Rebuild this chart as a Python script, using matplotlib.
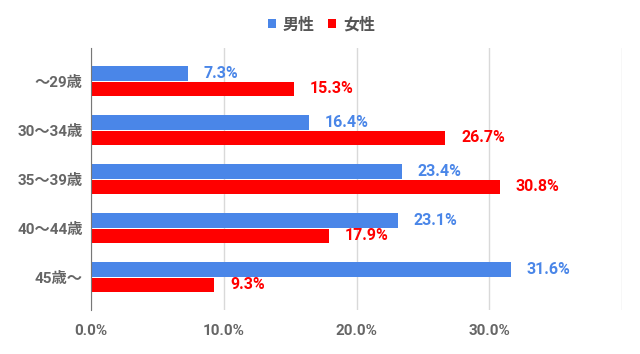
import matplotlib
matplotlib.use("Agg")
import matplotlib.pyplot as plt

plt.rcParams['font.family'] = ['Roboto', 'Noto Sans CJK JP', 'DejaVu Sans']

categories = ['～29歳', '30～34歳', '35～39歳', '40～44歳', '45歳～']
male = [7.3, 16.4, 23.4, 23.1, 31.6]
female = [15.3, 26.7, 30.8, 17.9, 9.3]
series_names = ['男性', '女性']
xticks = [0, 10, 20, 30, 40]
xticklabels = ['0.0%', '10.0%', '20.0%', '30.0%', '']

blue = '#4a86e8'
red = '#ff0000'
gray = '#666666'

fig = plt.figure(figsize=(6.4, 3.54), dpi=100)
ax = fig.add_axes([0.1422, 0.1243, 0.8297, 0.741])

ypos = list(range(len(categories)))
h = 0.3
off = 0.16
ax.barh([y - off for y in ypos], male, height=h, color=blue, label=series_names[0], zorder=3)
ax.barh([y + off for y in ypos], female, height=h, color=red, label=series_names[1], zorder=3)

for y, v in zip(ypos, male):
    ax.annotate('{:.1f}%'.format(v), (v, y - off), xytext=(11.5, 0), textcoords='offset points',
                ha='left', va='center', color=blue, fontsize=11.5, fontweight='bold')
for y, v in zip(ypos, female):
    ax.annotate('{:.1f}%'.format(v), (v, y + off), xytext=(11.5, 0), textcoords='offset points',
                ha='left', va='center', color=red, fontsize=11.5, fontweight='bold')

ax.set_xlim(0, 40)
ax.set_ylim(4.67, -0.68)
ax.set_xticks(xticks)
ax.set_xticklabels(xticklabels)
ax.set_yticks(ypos)
ax.set_yticklabels(categories)
ax.tick_params(axis='both', length=0, colors=gray, labelsize=11)
ax.tick_params(axis='x', pad=10)
ax.tick_params(axis='y', pad=6)
for lab in ax.get_xticklabels() + ax.get_yticklabels():
    lab.set_fontweight('bold')

ax.grid(axis='x', color='#d9d9d9', linewidth=1, zorder=0)
for s in ['top', 'right', 'bottom']:
    ax.spines[s].set_visible(False)
ax.spines['left'].set_color('#777777')
ax.spines['left'].set_zorder(4)

leg = fig.legend(loc='center', bbox_to_anchor=(0.502, 0.93), ncol=2, frameon=False,
                 handlelength=0.5, handleheight=0.5, handletextpad=0.45, columnspacing=0.8,
                 prop={'size': 11.5, 'weight': 'bold'})
for t in leg.get_texts():
    t.set_color('#555555')

fig.savefig('out.png', dpi=100)
